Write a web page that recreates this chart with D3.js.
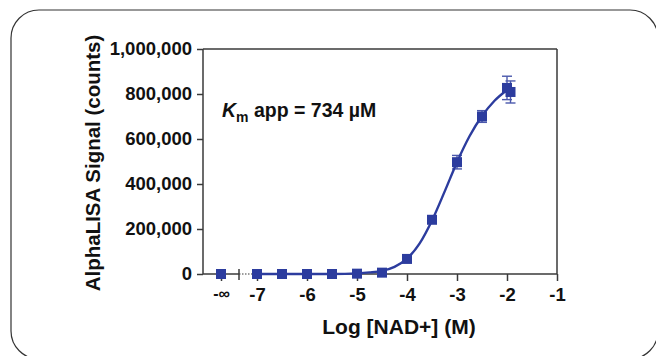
<!DOCTYPE html>
<html><head><meta charset="utf-8">
<script src="https://cdn.jsdelivr.net/npm/d3@7"></script>
<style>
body{margin:0;background:#fff;}
svg text{font-family:"Liberation Sans",Arial,sans-serif;font-weight:bold;fill:#111;}
</style></head>
<body><div id="chart"></div>
<script>
// ---- data ----
const logConc   = [-7.72, -7, -6.5, -6, -5.5, -5, -4.5, -4, -3.5, -3, -2.5, -2, -1.93]; // -7.72 = "-∞" position
const signal    = [0, 0, 0, 0, 0, 1500, 6000, 67000, 241000, 497000, 700000, 827000, 809000];
const errSD     = [0, 0, 0, 0, 0, 0, 2000, 6000, 12000, 30000, 26000, 52000, 49000];
const fitLog    = [-7, -6.5, -6, -5.5, -5, -4.75, -4.5, -4.25, -4, -3.75, -3.5, -3.25, -3, -2.75, -2.5, -2.25, -2];
const fitSignal = [0, 0, 0, 200, 3000, 7000, 14000, 32000, 68000, 135000, 238000, 365000, 497000, 612000, 702000, 770000, 818000];
const xTickVals   = [-7.72, -7, -6, -5, -4, -3, -2, -1];
const xTickLabels = ["-\u221E", "-7", "-6", "-5", "-4", "-3", "-2", "-1"];
const yTickVals   = [0, 200000, 400000, 600000, 800000, 1000000];
const axisBreak   = [-7.36, -7];

const W = 656, H = 356;
const m = {left: 203, right: 557, top: 49, bottom: 274};
const blue = "#2c3c9e", axisCol = "#3a3a3a";

const svg = d3.select("#chart").append("svg").attr("width", W).attr("height", H);

// rounded outer frame
svg.append("rect").attr("x", 11).attr("y", 10).attr("width", 647).attr("height", 349)
  .attr("rx", 28).attr("fill", "none").attr("stroke", "#333").attr("stroke-width", 1.2);

const x = d3.scaleLinear().domain([-8.08, -1]).range([m.left, m.right]);
const y = d3.scaleLinear().domain([0, 1000000]).range([m.bottom, m.top]);

// y axis
const yAxis = d3.axisLeft(y).tickValues(yTickVals).tickSize(6).tickPadding(5)
  .tickFormat(d3.format(","));
const gy = svg.append("g").attr("transform", `translate(${m.left},0)`).call(yAxis);
gy.select(".domain").remove();
gy.selectAll("line").attr("stroke", axisCol).attr("stroke-width", 1.5);
gy.selectAll("text").style("font-size", "18.5px").attr("fill", "#111");
svg.append("line").attr("x1", m.left).attr("x2", m.left).attr("y1", m.top).attr("y2", m.bottom)
  .attr("stroke", axisCol).attr("stroke-width", 1.5);

// frame top and right
svg.append("line").attr("x1", m.left).attr("x2", m.right).attr("y1", m.top).attr("y2", m.top)
  .attr("stroke", axisCol).attr("stroke-width", 1.5);
svg.append("line").attr("x1", m.right).attr("x2", m.right).attr("y1", m.top).attr("y2", m.bottom)
  .attr("stroke", axisCol).attr("stroke-width", 1.5);

// x axis
const xAxis = d3.axisBottom(x).tickValues(xTickVals).tickSize(7).tickPadding(7)
  .tickFormat((d, i) => xTickLabels[i]);
const gx = svg.append("g").attr("transform", `translate(0,${m.bottom})`).call(xAxis);
gx.select(".domain").remove();
gx.selectAll("line").attr("stroke", axisCol).attr("stroke-width", 1.5);
gx.selectAll("text").style("font-size", "18.5px").attr("fill", "#111");
gx.selectAll(".tick").filter(d => d === xTickVals[0]).select("text")
  .style("font-size", "16px");
// x axis line with break
svg.append("line").attr("x1", m.left).attr("x2", x(axisBreak[0])).attr("y1", m.bottom).attr("y2", m.bottom)
  .attr("stroke", axisCol).attr("stroke-width", 1.5);
svg.append("line").attr("x1", x(axisBreak[0])).attr("x2", x(axisBreak[1])).attr("y1", m.bottom).attr("y2", m.bottom)
  .attr("stroke", axisCol).attr("stroke-width", 1.2).attr("stroke-dasharray", "1.5,1.5");
svg.append("line").attr("x1", x(axisBreak[1])).attr("x2", m.right).attr("y1", m.bottom).attr("y2", m.bottom)
  .attr("stroke", axisCol).attr("stroke-width", 1.5);
svg.append("line").attr("x1", x(axisBreak[0])).attr("x2", x(axisBreak[0]))
  .attr("y1", m.bottom - 5).attr("y2", m.bottom + 6).attr("stroke", axisCol).attr("stroke-width", 1.5);

// axis titles
svg.append("text").attr("x", 399).attr("y", 334).attr("text-anchor", "middle")
  .style("font-size", "21px").text("Log [NAD+] (M)");
svg.append("text").attr("transform", "translate(100,163) rotate(-90)").attr("text-anchor", "middle")
  .style("font-size", "20.5px").text("AlphaLISA Signal (counts)");

// annotation
const ann = svg.append("text").attr("x", 222).attr("y", 117).style("font-size", "19.5px");
ann.append("tspan").style("font-style", "italic").text("K");
ann.append("tspan").attr("dy", 5).style("font-size", "14px").text("m");
ann.append("tspan").attr("dy", -5).text(" app = 734 \u00B5M");

// fitted curve
const line = d3.line().x(d => x(d[0])).y(d => y(d[1])).curve(d3.curveMonotoneX);
svg.append("path").datum(fitLog.map((v, i) => [v, fitSignal[i]]))
  .attr("d", line).attr("fill", "none").attr("stroke", blue).attr("stroke-width", 2.4);

// error bars
const pts = logConc.map((v, i) => ({x: v, y: signal[i], e: errSD[i]}));
const eb = svg.append("g").attr("stroke", blue).attr("stroke-width", 1.4).attr("opacity", 0.85);
pts.filter(d => d.e > 0).forEach(d => {
  eb.append("line").attr("x1", x(d.x)).attr("x2", x(d.x)).attr("y1", y(d.y - d.e)).attr("y2", y(d.y + d.e));
  [d.y - d.e, d.y + d.e].forEach(v => eb.append("line")
    .attr("x1", x(d.x) - 5).attr("x2", x(d.x) + 5).attr("y1", y(v)).attr("y2", y(v)));
});

// markers
const s = 10;
svg.append("g").selectAll("rect").data(pts).join("rect")
  .attr("x", d => x(d.x) - s / 2).attr("y", d => y(d.y) - s / 2)
  .attr("width", s).attr("height", s).attr("fill", blue);
</script></body></html>
